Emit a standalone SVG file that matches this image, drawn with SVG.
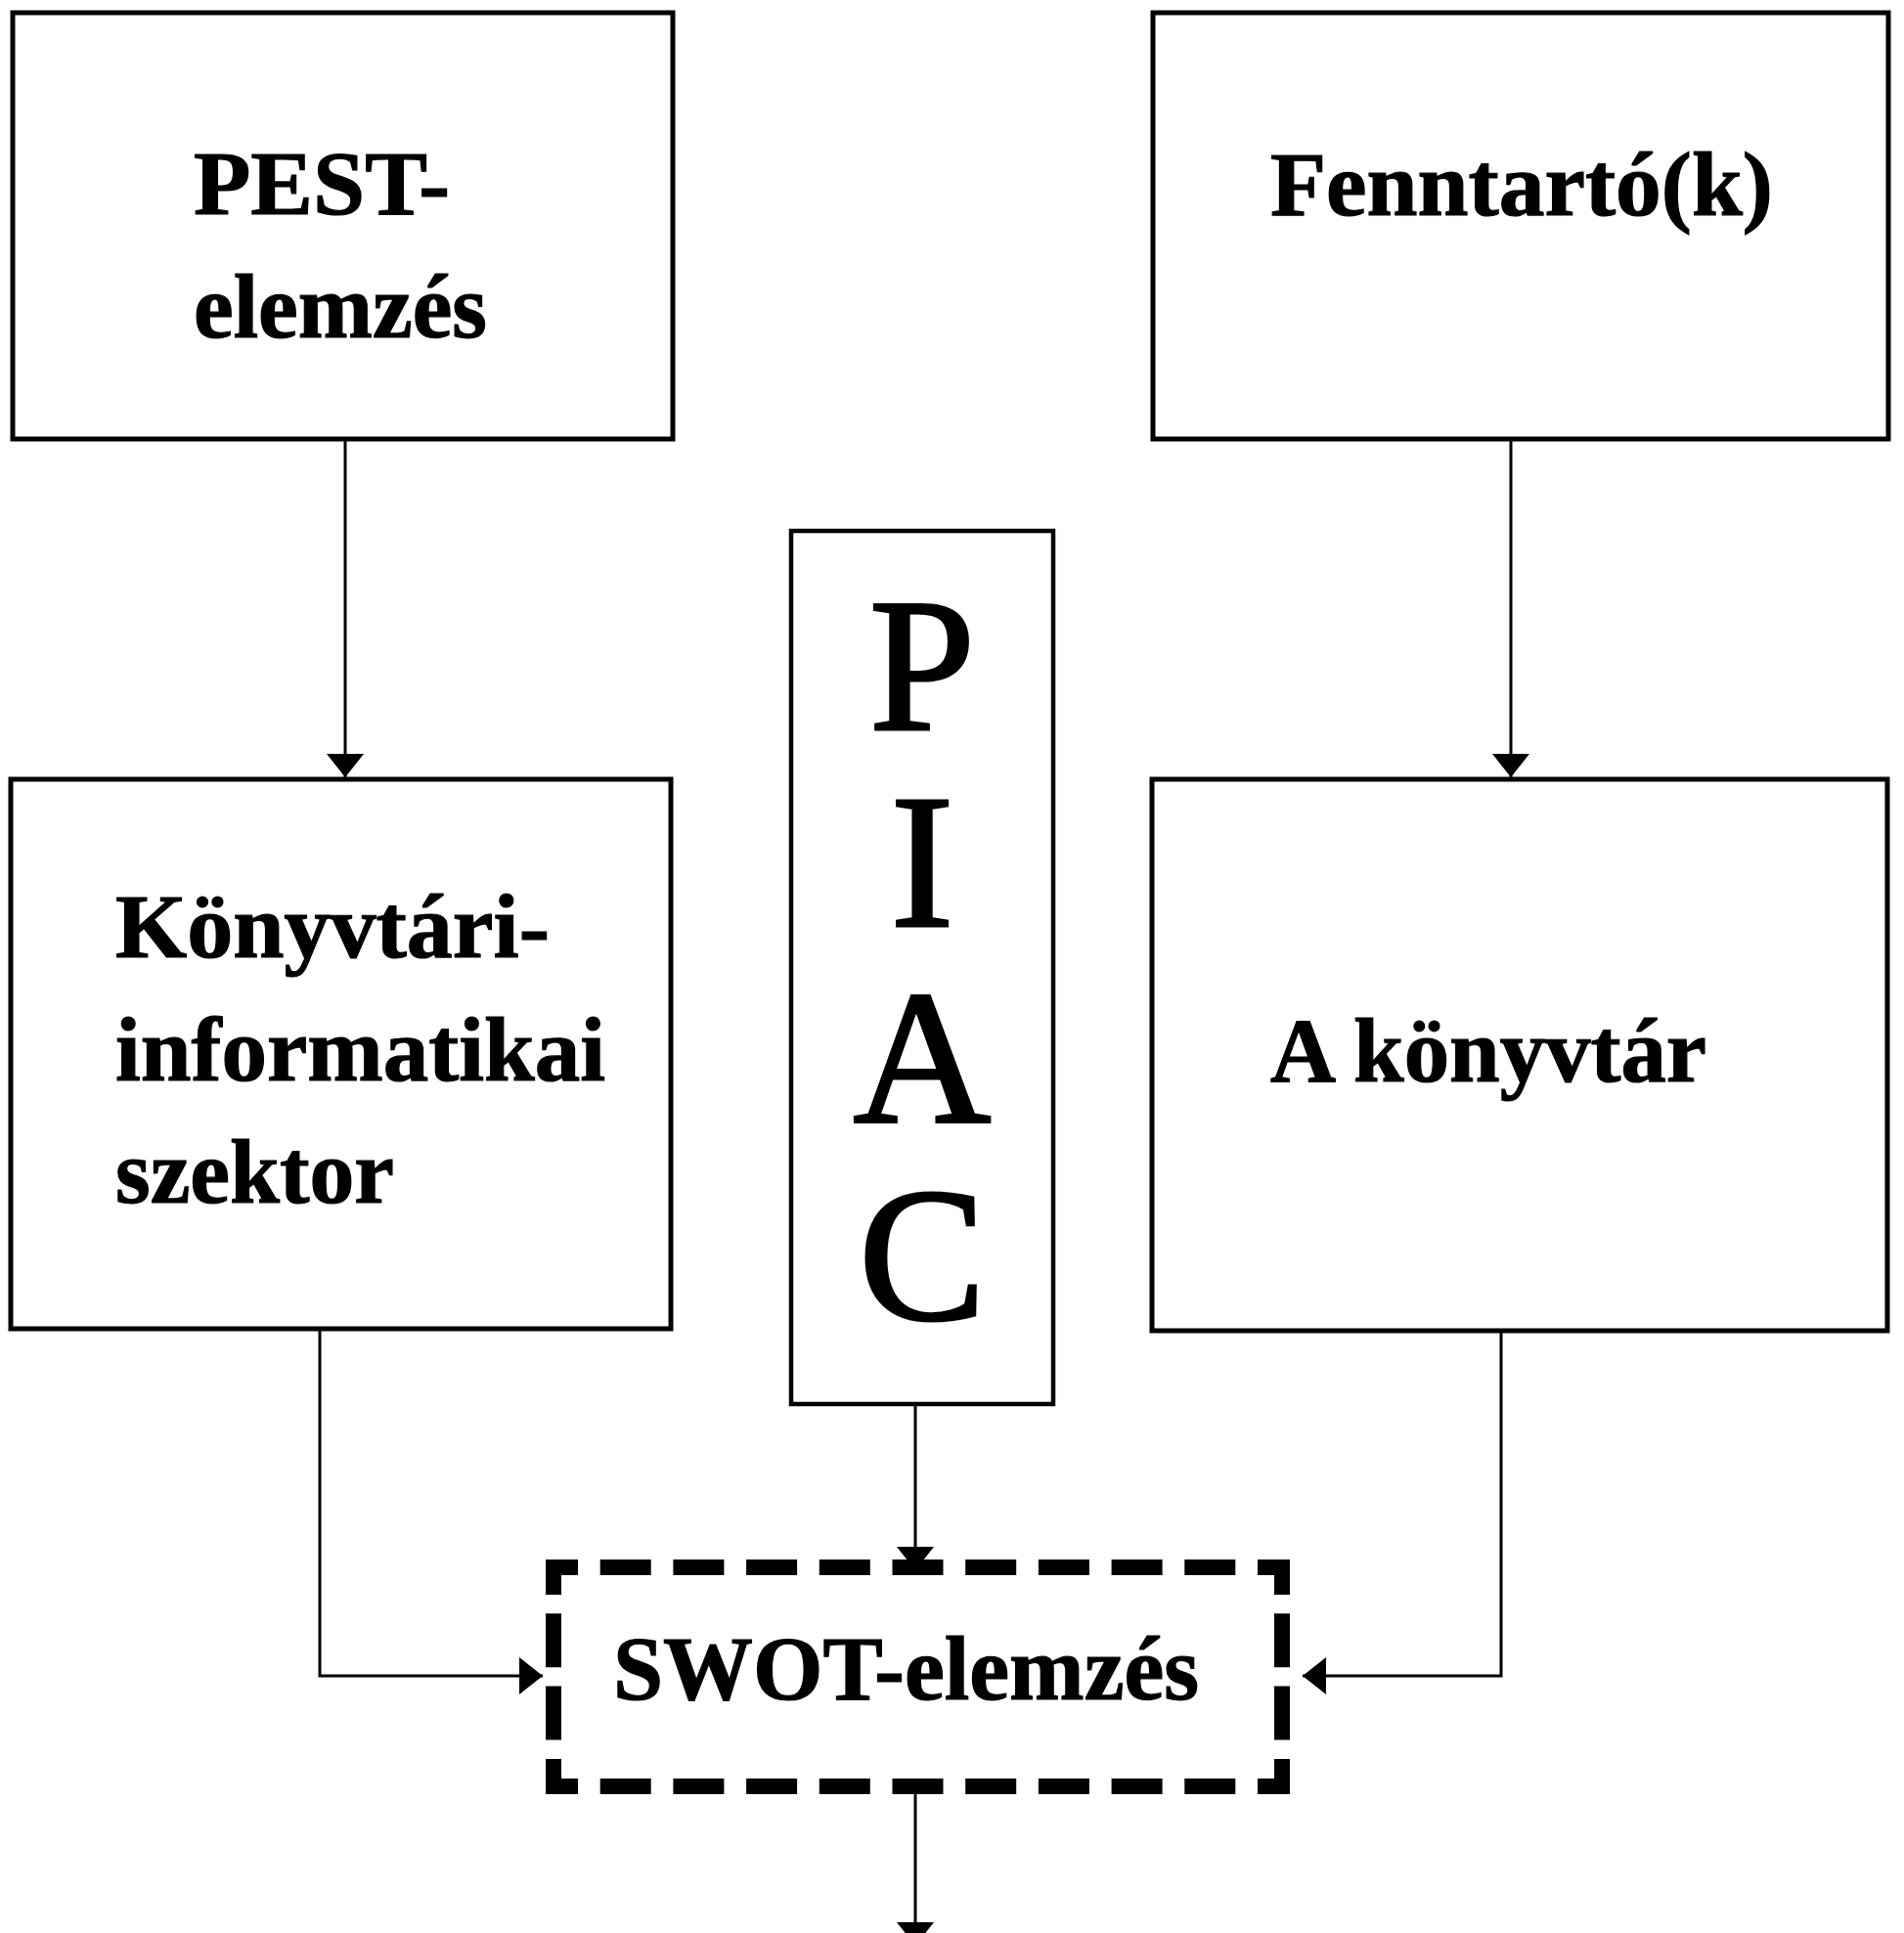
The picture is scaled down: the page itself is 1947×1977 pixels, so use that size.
<svg xmlns="http://www.w3.org/2000/svg" width="1947" height="1977" viewBox="0 0 1947 1977">
<style>
.box{fill:none;stroke:#000;stroke-width:5}
.lbl{font-family:"Liberation Serif","Times New Roman",serif;font-weight:bold;font-size:93px;fill:#000;stroke:#000;stroke-width:1.2}
.big{font-family:"Liberation Serif","Times New Roman",serif;font-size:195px;fill:#000;stroke:#000;stroke-width:3;text-anchor:middle}
.con{fill:none;stroke:#000;stroke-width:3}
.dh{stroke:#000;stroke-width:16;fill:none;stroke-dasharray:52 22.7;stroke-dashoffset:19}
.dv{stroke:#000;stroke-width:16;fill:none;stroke-dasharray:55 19.3;stroke-dashoffset:19}
</style>
<defs>
<marker id="ah" viewBox="0 0 24 38" refX="24" refY="19" markerWidth="24" markerHeight="38" orient="auto" markerUnits="userSpaceOnUse">
<path d="M0,0 L24,19 L0,38 Z" fill="#000"/>
</marker>
</defs>
<rect width="1947" height="1977" fill="#fff"/>
<g id="connectors">
<path class="con" d="M353,451 V795" marker-end="url(#ah)"/>
<path class="con" d="M1545,451 V795" marker-end="url(#ah)"/>
<path class="con" d="M936,1438 V1606" marker-end="url(#ah)"/>
<path class="con" d="M327,1361 V1714 H555" marker-end="url(#ah)"/>
<path class="con" d="M1535,1362 V1714 H1332" marker-end="url(#ah)"/>
<path class="con" d="M936,1835 V1990" marker-end="url(#ah)"/>
</g>
<g id="pest">
<rect class="box" x="13" y="13" width="675" height="436"/>
<text class="lbl" x="198" y="219" textLength="262" lengthAdjust="spacingAndGlyphs">PEST-</text>
<text class="lbl" x="198" y="345" textLength="300" lengthAdjust="spacingAndGlyphs">elemzés</text>
</g>
<g id="fenntarto">
<rect class="box" x="1179" y="13" width="752" height="436"/>
<text class="lbl" x="1299" y="220" textLength="514" lengthAdjust="spacingAndGlyphs">Fenntartó(k)</text>
</g>
<g id="konyvtari">
<rect class="box" x="11" y="797" width="675" height="562"/>
<text class="lbl" x="118" y="979" textLength="444" lengthAdjust="spacingAndGlyphs">Könyvtári-</text>
<text class="lbl" x="118" y="1105" textLength="501" lengthAdjust="spacingAndGlyphs">informatikai</text>
<text class="lbl" x="118" y="1230" textLength="285" lengthAdjust="spacingAndGlyphs">szektor</text>
</g>
<g id="akonyvtar">
<rect class="box" x="1178" y="797" width="752" height="564"/>
<text class="lbl" x="1299" y="1106" textLength="446" lengthAdjust="spacingAndGlyphs">A könyvtár</text>
</g>
<g id="piac">
<rect class="box" x="809" y="543" width="268" height="893" style="stroke-width:4.5"/>
<text class="big" x="943" y="746">P</text>
<text class="big" x="943" y="947">I</text>
<text class="big" x="943" y="1148">A</text>
<text class="big" x="943" y="1349">C</text>
</g>
<g id="swot">
<line class="dh" x1="558" y1="1603" x2="1319" y2="1603"/>
<line class="dh" x1="558" y1="1827" x2="1319" y2="1827"/>
<line class="dv" x1="566" y1="1595" x2="566" y2="1835"/>
<line class="dv" x1="1311" y1="1595" x2="1311" y2="1835"/>
<text class="lbl" x="627" y="1738" textLength="599" lengthAdjust="spacingAndGlyphs">SWOT-elemzés</text>
</g>
</svg>
